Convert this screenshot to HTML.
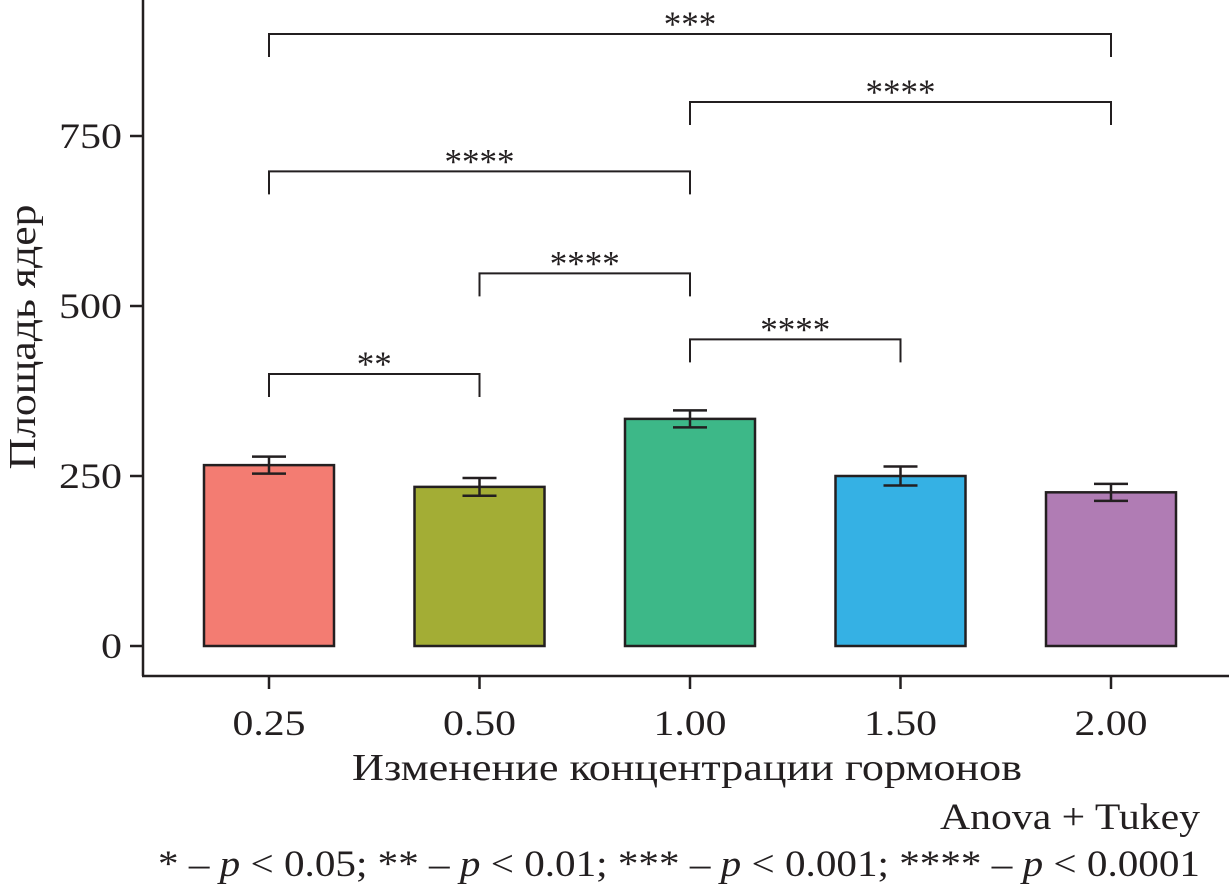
<!DOCTYPE html>
<html><head><meta charset="utf-8"><style>
body{margin:0;background:#fff;}
svg{display:block;font-family:"Liberation Serif","Noto Serif CJK SC",serif;}
</style></head><body>
<svg id="c" width="1229" height="896" viewBox="0 0 1229 896"></svg>
<script>
const categories=["0.25","0.50","1.00","1.50","2.00"];
const values=[266,234,334,250,226];
const errors=[12.5,13,12.5,14,12.5];
const colors=["#F37C72","#A3AD35","#3DB888","#35B1E4","#B07CB4"];
const yTicks=[0,250,500,750];
const brackets=[[0,1,"**",400],[1,2,"****",548],[2,3,"****",451],[0,2,"****",698],[2,4,"****",800],[0,4,"***",900]];
const NS="http://www.w3.org/2000/svg";
const svg=document.getElementById('c');
const y=v=>646-v*0.68;
const x=i=>269+i*210.5;
function mk(t,a,p){const e=document.createElementNS(NS,t);for(const k in a)e.setAttribute(k,a[k]);(p||svg).appendChild(e);return e;}
const st="#231f20";
let ax=mk('line',{x1:143,y1:0,x2:143,y2:676,stroke:st,'stroke-width':2.5});

let bx=mk('line',{x1:142,y1:676,x2:1229,y2:676,stroke:st,'stroke-width':2.5});

yTicks.forEach(v=>{
 mk('line',{x1:130,y1:y(v),x2:143,y2:y(v),stroke:st,'stroke-width':2.5});
 const s=String(v);
 const t=mk('text',{x:122,y:y(v)+12,'text-anchor':'end','font-size':36,fill:st,textLength:s.length*21,lengthAdjust:'spacingAndGlyphs'});t.textContent=s;
 
});
categories.forEach((c,i)=>{
 mk('line',{x1:x(i),y1:676,x2:x(i),y2:689,stroke:st,'stroke-width':2.5});
 const t=mk('text',{x:x(i),y:735,'text-anchor':'middle','font-size':36,fill:st,textLength:73,lengthAdjust:'spacingAndGlyphs'});t.textContent=c;
 
 const r=mk('rect',{x:x(i)-65,y:y(values[i]),width:130,height:y(0)-y(values[i]),fill:colors[i],stroke:st,'stroke-width':2.5});
 
 const hi=y(values[i]+errors[i]),lo=y(values[i]-errors[i]);
 mk('line',{x1:x(i),y1:hi,x2:x(i),y2:lo,stroke:st,'stroke-width':2.5});
 mk('line',{x1:x(i)-17,y1:hi,x2:x(i)+17,y2:hi,stroke:st,'stroke-width':2.5});
 mk('line',{x1:x(i)-17,y1:lo,x2:x(i)+17,y2:lo,stroke:st,'stroke-width':2.5});
});
brackets.forEach(b=>{
 const yy=y(b[3]);
 const p=mk('path',{d:`M${x(b[0])},${yy+23}V${yy}H${x(b[1])}V${yy+23}`,fill:'none',stroke:st,'stroke-width':2});
 
 const t=mk('text',{x:(x(b[0])+x(b[1]))/2,y:yy+2,'text-anchor':'middle','font-size':36,fill:st,textLength:b[2].length*17.5,lengthAdjust:'spacingAndGlyphs'});t.textContent=b[2];
 
});
</script>
<svg style="position:absolute;left:0;top:0" width="1229" height="896" font-family="Liberation Serif, serif">
<text transform="translate(35,337) rotate(-90)" text-anchor="middle" font-size="38" fill="#231f20" textLength="265" lengthAdjust="spacingAndGlyphs">Площадь ядер</text>
<text x="687" y="780" text-anchor="middle" font-size="38" fill="#231f20" textLength="670" lengthAdjust="spacingAndGlyphs">Изменение концентрации гормонов</text>
<text x="1200" y="829" text-anchor="end" font-size="37" fill="#231f20" textLength="260" lengthAdjust="spacingAndGlyphs">Anova + Tukey</text>
<text x="1200" y="876" text-anchor="end" font-size="37" fill="#231f20" textLength="1042" lengthAdjust="spacingAndGlyphs">* – <tspan font-style="italic">p</tspan> &lt; 0.05; ** – <tspan font-style="italic">p</tspan> &lt; 0.01; *** – <tspan font-style="italic">p</tspan> &lt; 0.001; **** – <tspan font-style="italic">p</tspan> &lt; 0.0001</text>
</svg>
</body></html>
